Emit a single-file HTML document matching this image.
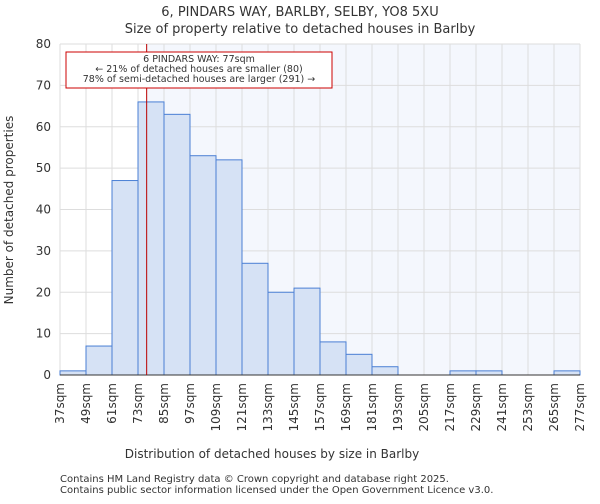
<!DOCTYPE html>
<html><head><meta charset="utf-8"><style>
body{margin:0;background:#fff;font-family:"DejaVu Sans","Liberation Sans",sans-serif}
svg text{font-family:"DejaVu Sans","Liberation Sans",sans-serif;fill:#333}
</style></head><body>
<svg id="c" width="600" height="500" xmlns="http://www.w3.org/2000/svg">
<text x="300" y="16" font-size="13" text-anchor="middle">6, PINDARS WAY, BARLBY, SELBY, YO8 5XU</text>
<text x="300" y="33" font-size="13" text-anchor="middle">Size of property relative to detached houses in Barlby</text>
<g id="plot"></g>
<text x="272" y="458" font-size="12" text-anchor="middle">Distribution of detached houses by size in Barlby</text>
<text transform="translate(13,210) rotate(-90)" font-size="12" text-anchor="middle">Number of detached properties</text>
<text x="60" y="482" font-size="10">Contains HM Land Registry data © Crown copyright and database right 2025.</text>
<text x="60" y="493" font-size="10">Contains public sector information licensed under the Open Government Licence v3.0.</text>
</svg>
<script>
const binStarts=[37,49,61,73,85,97,109,121,133,145,157,169,181,193,205,217,229,241,253,265];
const counts=[1,7,47,66,63,53,52,27,20,21,8,5,2,0,0,1,1,0,0,1];
const xTickLabels=[37,49,61,73,85,97,109,121,133,145,157,169,181,193,205,217,229,241,253,265,277];
const yTicks=[0,10,20,30,40,50,60,70,80];
const propertySize=77;
const NS="http://www.w3.org/2000/svg";
const X0=60,X1=580,Y0=375,Y1=44,xMin=37,xMax=277,yMax=80;
const sx=v=>X0+(v-xMin)/(xMax-xMin)*(X1-X0);
const sy=v=>Y0-v/yMax*(Y0-Y1);
const g=document.getElementById('plot');
function mk(t,a){const e=document.createElementNS(NS,t);for(const k in a)e.setAttribute(k,a[k]);g.appendChild(e);return e;}
let e;
e=mk('rect',{x:X0,y:Y1,width:X1-X0,height:Y0-Y1,fill:'#fff'});


e=mk('rect',{x:sx(propertySize),y:Y1,width:X1-sx(propertySize),height:Y0-Y1,fill:'#f4f7fd'});


xTickLabels.forEach(v=>{
 e=mk('line',{x1:sx(v),x2:sx(v),y1:Y1,y2:Y0,stroke:'#ddd','stroke-width':1});
 
 
 e=mk('text',{x:0,y:0,'font-size':12,'text-anchor':'end',transform:`translate(${sx(v)+4},${Y0+8}) rotate(-90)`});
 e.textContent=v+'sqm';
 
 
});
yTicks.forEach(v=>{
 e=mk('line',{x1:X0,x2:X1,y1:sy(v),y2:sy(v),stroke:'#ddd','stroke-width':1});
 
 
 e=mk('text',{x:X0-9,y:sy(v)+4,'font-size':12,'text-anchor':'end'});
 e.textContent=v;
 
 
});
counts.forEach((c,i)=>{
 const x=sx(binStarts[i]),w=sx(binStarts[i]+12)-x;
 e=mk('rect',{x:x,y:sy(c),width:w,height:Y0-sy(c),fill:'#d6e2f5',stroke:'#4a7fd4','stroke-width':1});
 
 
});
e=mk('line',{x1:X0,x2:X1,y1:Y0,y2:Y0,stroke:'#333'});


e=mk('line',{x1:sx(propertySize),x2:sx(propertySize),y1:Y1,y2:Y0,stroke:'#b00','stroke-width':1});


e=mk('rect',{x:66,y:52,width:266,height:36,fill:'#fff',stroke:'#c00','stroke-width':1});


const ann=['6 PINDARS WAY: 77sqm','← 21% of detached houses are smaller (80)','78% of semi-detached houses are larger (291) →'];
ann.forEach((t,i)=>{
 e=mk('text',{x:199,y:62+i*10,'font-size':9.5,'text-anchor':'middle'});
 e.textContent=t;
 
 
});
</script>
</body></html>
